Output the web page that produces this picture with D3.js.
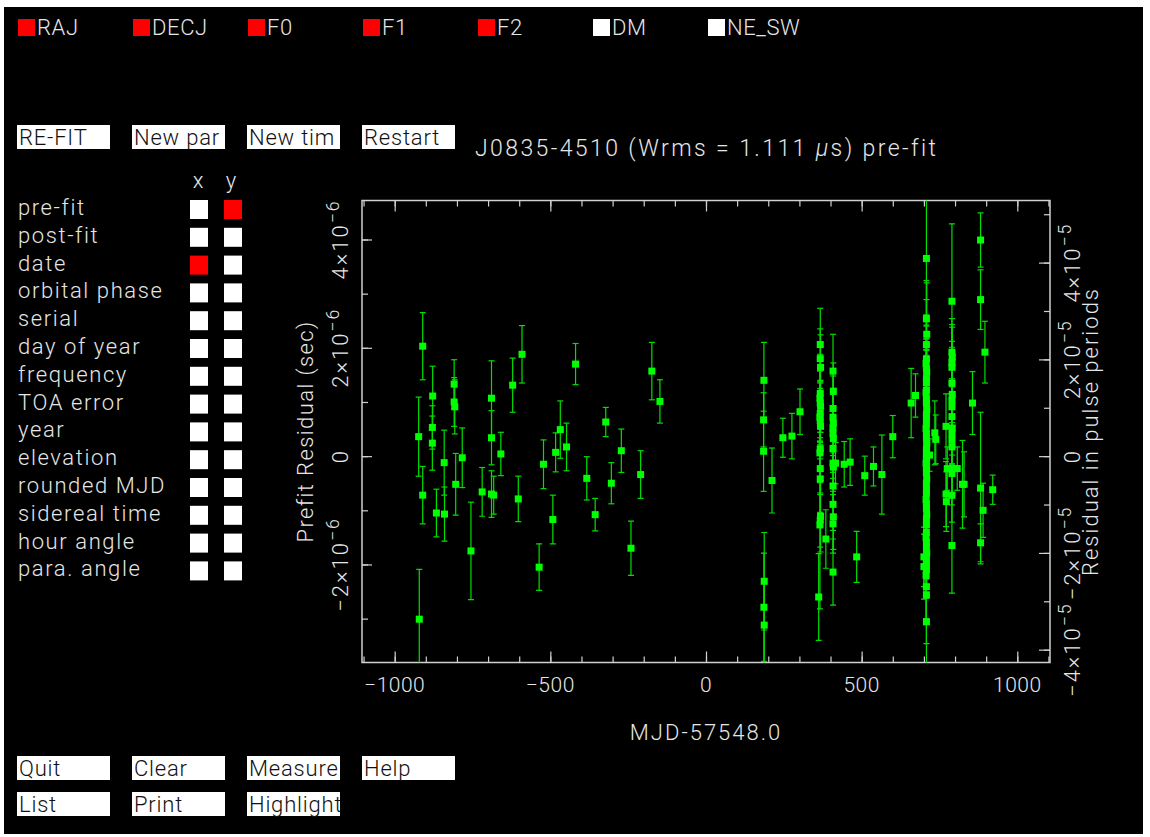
<!DOCTYPE html>
<html>
<head>
<meta charset="utf-8">
<script src="https://cdn.jsdelivr.net/npm/d3@7"></script>
<style>
  body { margin: 0; background: #fff; }
  text { font-family: Roboto, "DejaVu Sans", sans-serif; font-weight: 300; }
</style>
</head>
<body>
<script>

// fit parameters shown along the top (red = being fitted)
var fitParams = ["RAJ", "DECJ", "F0", "F1", "F2", "DM", "NE_SW"];
var fitParamOn = [true, true, true, true, true, false, false];

var topButtons = ["RE-FIT", "New par", "New tim", "Restart"];
var bottomButtons1 = ["Quit", "Clear", "Measure", "Help"];
var bottomButtons2 = ["List", "Print", "Highlight"];

var plotChoices = ["pre-fit", "post-fit", "date", "orbital phase", "serial", "day of year",
  "frequency", "TOA error", "year", "elevation", "rounded MJD", "sidereal time",
  "hour angle", "para. angle"];
var xChoice = 2;   // date
var yChoice = 0;   // pre-fit

var plotTitle = "J0835-4510 (Wrms = 1.111 ";
var xTitle = "MJD-57548.0";
var yTitle = "Prefit Residual (sec)";
var y2Title = "Residual in pulse periods";

var xTicksMajor = [-1000, -500, 0, 500, 1000];
var xTickLabels = ["\u22121000", "\u2212500", "0", "500", "1000"];
var yTicksMajor = [-2, 0, 2, 4];                 // microseconds
var yTickBase = ["\u22122\u00d710", "0", "2\u00d710", "4\u00d710"];
var yTickExp = ["\u22126", "", "\u22126", "\u22126"];
var y2TicksMajor = [-4, -2, 0, 2, 4];            // units of 1e-5 periods
var y2TickBase = ["\u22124\u00d710", "\u22122\u00d710", "0", "2\u00d710", "4\u00d710"];
var y2TickExp = ["\u22125", "\u22125", "", "\u22125", "\u22125"];

var pulsePeriod = 0.08933; // seconds

// TOAs: days from MJD 57548.0
var toaDays = [
  -923, -910, -910, -921, -878, -879, -879, -866, -841, -840,
  -809, -809, -807, -804, -783, -755, -719, -689, -689, -689,
  -682, -659, -621, -603, -591, -536, -522, -492, -483, -468,
  -448, -419, -383, -356, -322, -304, -272, -241, -210, -174,
  -148,
  186, 185, 185, 187, 186, 187, 212, 247, 276, 302,
  367, 367, 368, 367, 366, 367, 368, 367, 366, 367,
  368, 367, 366, 367, 367, 368, 367, 366, 362, 385,
  408, 409, 408, 408, 409, 408, 408, 409, 408, 408,
  409, 408, 408, 409, 408, 408, 416, 444, 463, 484,
  510, 538, 565, 600, 659, 673,
  708, 708, 709, 708, 708, 707, 708, 709, 708, 708,
  708, 707, 708, 708, 709, 708, 708, 708, 707, 708,
  708, 709, 708, 708, 708, 707, 708, 708, 709, 708,
  708, 708, 707, 708, 708, 709, 708, 708, 708, 707,
  708, 708, 709, 708, 708, 708, 707, 708, 708, 708,
  700, 700, 718,
  735, 738, 771, 771, 772, 775,
  790, 790, 791, 790, 790, 790, 791, 790, 790, 790,
  791, 790, 790, 790, 791, 790, 790, 790,
  807, 824, 829, 856, 882, 882, 882, 882, 890, 896, 921
];

// pre-fit residuals, microseconds
var residUs = [
  0.36, 2.03, -0.72, -3.01, 1.11, 0.53, 0.24, -1.05, -0.12, -1.07,
  1.33, 1.00, 0.91, -0.52, -0.03, -1.75, -0.66, 1.07, 0.34, -0.70,
  -0.72, 0.04, 1.31, -0.79, 1.88, -2.05, -0.15, -1.17, 0.07, 0.49,
  0.17, 1.70, -0.41, -1.08, 0.63, -0.50, 0.10, -1.70, -0.34, 1.57,
  1.01,
  1.40, 0.67, 0.09, -2.31, -2.79, -3.12, -0.45, 0.34, 0.37, 0.82,
  2.06, 1.80, 1.64, 1.16, 1.07, 0.98, 0.92, 0.79, 0.72, 0.65,
  0.55, 0.13, 0.06, -0.23, -0.42, -1.11, -1.18, -1.27, -2.60, -1.53,
  1.57, 1.20, 0.88, 0.72, 0.61, 0.52, 0.42, 0.33, 0.14, -0.13,
  -0.20, -0.55, -0.89, -1.12, -1.25, -2.14, -0.13, -0.15, -0.11, -1.86,
  -0.36, -0.19, -0.34, 0.36, 0.98, 1.12,
  3.65, 2.54, 2.25, 2.06, 1.79, 1.71, 1.62, 1.55, 1.43, 1.36,
  1.22, 1.17, 1.05, 0.98, 0.86, 0.77, 0.70, 0.59, 0.51, 0.42,
  0.33, 0.24, 0.13, 0.05, -0.04, -0.13, -0.22, -0.31, -0.42, -0.50,
  -0.61, -0.69, -0.80, -0.88, -0.97, -1.08, -1.16, -1.27, -1.41, -1.50,
  -1.59, -1.70, -1.79, -1.88, -1.99, -2.10, -2.20, -2.41, -2.56, -3.06,
  -1.86, -2.04, 0.02,
  0.43, 0.31, 0.55, -0.70, -0.84, -0.23,
  2.86, 1.92, 1.83, 1.73, 1.64, 1.35, 1.14, 1.03, 0.91, 0.73,
  0.52, 0.41, 0.30, 0.17, -0.23, -0.32, -0.72, -1.65,
  -0.23, -0.52, -0.52, 0.98, 3.99, 2.89, -0.59, -1.60, -1.00, 1.92, -0.62
];

// TOA uncertainties, microseconds
var errUs = [
  0.73, 0.62, 0.53, 0.92, 0.55, 0.40, 0.50, 0.44, 0.60, 0.50,
  0.45, 0.45, 0.50, 0.57, 0.55, 0.90, 0.45, 0.69, 0.50, 0.43,
  0.35, 0.40, 0.50, 0.42, 0.53, 0.43, 0.45, 0.45, 0.36, 0.53,
  0.44, 0.38, 0.40, 0.30, 0.27, 0.38, 0.40, 0.50, 0.44, 0.53,
  0.40,
  0.70, 0.50, 0.74, 0.90, 1.00, 0.85, 0.60, 0.36, 0.42, 0.42,
  0.67, 0.55, 0.60, 0.72, 0.50, 0.64, 0.48, 0.58, 0.45, 0.70,
  0.52, 0.40, 0.55, 0.48, 0.62, 0.66, 0.50, 1.55, 0.80, 0.54,
  0.68, 0.52, 0.60, 0.45, 0.55, 0.62, 0.50, 0.58, 0.44, 0.52,
  0.40, 0.56, 0.48, 0.60, 0.54, 0.61, 0.38, 0.42, 0.43, 0.47,
  0.36, 0.36, 0.73, 0.39, 0.64, 0.40,
  1.25, 0.70, 0.95, 0.55, 1.10, 0.45, 0.80, 0.62, 1.05, 0.50,
  0.75, 0.40, 0.90, 0.58, 0.66, 1.20, 0.48, 0.85, 0.52, 0.70,
  1.00, 0.44, 0.62, 0.90, 0.55, 1.15, 0.46, 0.78, 0.60, 0.95,
  0.50, 0.72, 1.10, 0.42, 0.66, 0.88, 0.54, 1.00, 0.60, 0.75,
  0.48, 0.92, 0.58, 0.70, 1.05, 0.52, 0.80, 0.64, 0.90, 0.95,
  0.55, 0.60, 0.30,
  0.59, 0.45, 0.60, 0.60, 0.55, 0.40,
  1.43, 0.62, 0.55, 0.70, 0.48, 0.66, 0.52, 0.58, 0.45, 0.60,
  0.50, 0.56, 0.44, 0.52, 0.46, 0.58, 0.50, 0.88,
  0.40, 0.81, 0.60, 0.58, 0.50, 0.55, 1.40, 0.35, 0.50, 0.57, 0.27
];

var toas = toaDays.map(function(d, i) { return {x: d, y: residUs[i], e: errUs[i]}; });

var textCol = "#e6e6e6";
var axisCol = "#d0d0d0";

var svg = d3.select("body")
    .append("svg")
    .attr("width", 1150)
    .attr("height", 837);

// white border round a black window
svg.append("rect").attr("width", 1150).attr("height", 837).style("fill", "#fff");
svg.append("rect")
    .attr("x", 4).attr("y", 7)
    .attr("width", 1139).attr("height", 827)
    .style("fill", "#000");

// top row: fit parameters
fitParams.forEach(function(p, i) {
  svg.append("rect")
      .attr("x", 18 + 115 * i).attr("y", 19)
      .attr("width", 17).attr("height", 17)
      .style("fill", fitParamOn[i] ? "#ff0000" : "#ffffff");
  svg.append("text")
      .attr("x", 37 + 115 * i).attr("y", 35)
      .attr("font-size", "22px")
      .style("letter-spacing", "0.6px")
      .style("fill", textCol)
      .text(p);
});

// white buttons with dark text
function drawButtons(names, yTop) {
  names.forEach(function(b, i) {
    svg.append("rect")
        .attr("x", 17 + 115 * i).attr("y", yTop)
        .attr("width", 93).attr("height", 24)
        .style("fill", "#ffffff");
    svg.append("text")
        .attr("x", 19 + 115 * i).attr("y", yTop + 20)
        .attr("font-size", "22px")
        .style("letter-spacing", "0.8px")
        .style("fill", "#111")
        .text(b);
  });
}
drawButtons(topButtons, 125);
drawButtons(bottomButtons1, 756);
drawButtons(bottomButtons2, 792);

// title
var title = svg.append("text")
    .attr("x", 475).attr("y", 156)
    .attr("font-size", "23px")
    .style("letter-spacing", "2.4px")
    .style("fill", textCol)
    .text(plotTitle);
title.append("tspan").style("font-style", "italic").text("\u03bc");
title.append("tspan").text("s) pre-fit");

// x / y selector panel
svg.append("text").attr("x", 198).attr("y", 188).attr("font-size", "22px")
    .attr("text-anchor", "middle").style("fill", textCol).text("x");
svg.append("text").attr("x", 231).attr("y", 188).attr("font-size", "22px")
    .attr("text-anchor", "middle").style("fill", textCol).text("y");

plotChoices.forEach(function(c, i) {
  var top = 200 + 27.8 * i;
  svg.append("text")
      .attr("x", 18).attr("y", top + 15)
      .attr("font-size", "22px")
      .style("letter-spacing", "1.6px")
      .style("fill", textCol)
      .text(c);
  svg.append("rect")
      .attr("x", 190).attr("y", top)
      .attr("width", 18).attr("height", 19)
      .style("fill", i == xChoice ? "#ff0000" : "#ffffff");
  svg.append("rect")
      .attr("x", 224).attr("y", top)
      .attr("width", 18).attr("height", 19)
      .style("fill", i == yChoice ? "#ff0000" : "#ffffff");
});

// plot area
var L = 362, R = 1050, T = 200.5, B = 662.5;

var x = d3.scaleLinear().domain([-1105, 1105]).range([L, R]);
var y = d3.scaleLinear().domain([-3.81, 4.72]).range([B, T]);
// same range, expressed in units of 1e-5 pulse periods
var y2 = d3.scaleLinear()
    .domain([-3.81 / (pulsePeriod * 10), 4.72 / (pulsePeriod * 10)])
    .range([B, T]);

function tickAxis(axis, values, size, tx, ty) {
  var g = svg.append("g")
      .attr("transform", "translate(" + tx + "," + ty + ")")
      .call(axis.tickValues(values).tickSize(size).tickFormat(""));
  g.select(".domain").remove();
  g.selectAll("line").style("stroke", axisCol).style("stroke-width", 1.2);
}

var xMinor = d3.range(-1100, 1101, 100);
tickAxis(d3.axisBottom(x), xMinor, -6, 0, B);
tickAxis(d3.axisBottom(x), xTicksMajor, -11, 0, B);
tickAxis(d3.axisTop(x), xMinor, -6, 0, T);
tickAxis(d3.axisTop(x), xTicksMajor, -11, 0, T);

tickAxis(d3.axisLeft(y), d3.range(-3, 5, 1), -6, L, 0);
tickAxis(d3.axisLeft(y), yTicksMajor, -10, L, 0);
tickAxis(d3.axisRight(y2), d3.range(-4, 6, 1), -6, R, 0);
tickAxis(d3.axisRight(y2), y2TicksMajor, -11, R, 0);

svg.append("rect")
    .attr("x", L).attr("y", T)
    .attr("width", R - L).attr("height", B - T)
    .style("fill", "none")
    .style("stroke", axisCol)
    .style("stroke-width", 1.5);

// tick labels
xTicksMajor.forEach(function(v, i) {
  svg.append("text")
      .attr("x", x(v)).attr("y", 692)
      .attr("text-anchor", "middle")
      .attr("font-size", "21px")
      .style("letter-spacing", "0.5px")
      .style("fill", textCol)
      .text(xTickLabels[i]);
});

function rotLabel(px, py, base, exp, spacing) {
  var t = svg.append("text")
      .attr("transform", "translate(" + px + "," + py + ") rotate(-90)")
      .attr("text-anchor", "middle")
      .attr("font-size", "22px")
      .style("letter-spacing", spacing + "px")
      .style("fill", textCol)
      .text(base);
  if (exp) {
    t.append("tspan").attr("dy", "-0.5em").attr("font-size", "0.8em").text(exp);
  }
}

yTicksMajor.forEach(function(v, i) { rotLabel(348, y(v), yTickBase[i], yTickExp[i], 2); });
y2TicksMajor.forEach(function(v, i) { rotLabel(1080, y2(v), y2TickBase[i], y2TickExp[i], 2); });

// axis titles
svg.append("text")
    .attr("x", (L + R) / 2).attr("y", 740)
    .attr("text-anchor", "middle")
    .attr("font-size", "22px")
    .style("letter-spacing", "2px")
    .style("fill", textCol)
    .text(xTitle);
rotLabel(313, (T + B) / 2, yTitle, "", 1.4);
rotLabel(1098, (T + B) / 2, y2Title, "", 2);

// residuals with error bars, clipped to the frame
svg.append("clipPath").attr("id", "plotClip")
  .append("rect").attr("x", L).attr("y", T).attr("width", R - L).attr("height", B - T);

var pts = svg.append("g").attr("clip-path", "url(#plotClip)");

pts.selectAll(".ebar")
    .data(toas).enter()
    .append("line")
    .attr("class", "ebar")
    .attr("x1", function(d) { return x(d.x); })
    .attr("x2", function(d) { return x(d.x); })
    .attr("y1", function(d) { return y(d.y + d.e); })
    .attr("y2", function(d) { return y(d.y - d.e); })
    .style("stroke", "#00e000")
    .style("stroke-width", 1.2);

[1, -1].forEach(function(s) {
  pts.selectAll(".cap" + s)
      .data(toas).enter()
      .append("line")
      .attr("x1", function(d) { return x(d.x) - 3; })
      .attr("x2", function(d) { return x(d.x) + 3; })
      .attr("y1", function(d) { return y(d.y + s * d.e); })
      .attr("y2", function(d) { return y(d.y + s * d.e); })
      .style("stroke", "#00e000")
      .style("stroke-width", 1.2);
});

pts.selectAll(".pt")
    .data(toas).enter()
    .append("rect")
    .attr("class", "pt")
    .attr("x", function(d) { return x(d.x) - 3.5; })
    .attr("y", function(d) { return y(d.y) - 3.5; })
    .attr("width", 7).attr("height", 7)
    .style("fill", "#00ff00");

</script>
</body>
</html>
